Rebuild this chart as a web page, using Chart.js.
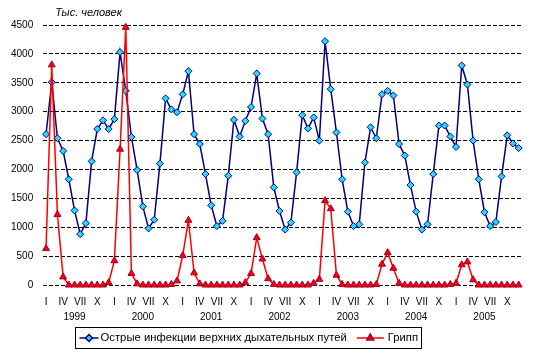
<!DOCTYPE html>
<html><head><meta charset="utf-8">
<script src="https://cdn.jsdelivr.net/npm/chart.js@4.4.1/dist/chart.umd.min.js"></script>
<style>html,body{margin:0;padding:0;background:#fff;}canvas{display:block;}</style>
</head><body>
<canvas id="c" width="536" height="356"></canvas>
<script>
const years = ['1999','2000','2001','2002','2003','2004','2005'];
const monthTicks = ['I','','','IV','','','VII','','','X','',''];
const seriesNames = ['Острые инфекции верхних дыхательных путей', 'Грипп'];
const unitLabel = 'Тыс. человек';
const yMax = 4500, yStep = 500;

const acuteRespiratory = [
  2610, 3510, 2540, 2320, 1830, 1290, 880, 1070, 2140, 2700, 2850, 2700,
  2870, 4030, 3360, 2560, 1990, 1360, 980, 1130, 2100, 3230, 3040, 2990,
  3300, 3700, 2610, 2440, 1920, 1380, 1020, 1110, 1890, 2860, 2570, 2840,
  3080, 3660, 2880, 2610, 1690, 1280, 960, 1080, 1950, 2940, 2710, 2900,
  2500, 4220, 3390, 2640, 1830, 1270, 1020, 1050, 2120, 2730, 2540, 3300,
  3360, 3280, 2440, 2240, 1730, 1270, 960, 1050, 1920, 2760, 2760, 2570,
  2390, 3800, 3470, 2500, 1830, 1260, 1020, 1090, 1880, 2590, 2450, 2370
];
const influenza = [
  630, 3810, 1220, 140, 0, 0, 0, 0, 0, 0, 0, 40,
  420, 2350, 4460, 200, 20, 0, 0, 0, 0, 0, 10, 70,
  510, 1120, 210, 20, 0, 0, 0, 0, 0, 0, 0, 40,
  200, 820, 450, 110, 10, 0, 0, 0, 0, 0, 0, 30,
  100, 1460, 1320, 170, 10, 0, 0, 0, 0, 0, 10, 360,
  560, 290, 30, 0, 0, 0, 0, 0, 0, 0, 0, 10,
  30, 350, 400, 90, 0, 0, 0, 0, 0, 0, 0, 0
];

const categories = [];
const tickLabels = [];
years.forEach(y => monthTicks.forEach((m, i) => {
  categories.push(y + '-' + (i + 1));
  tickLabels.push(i === 5 ? [m, y] : m);
}));

const FONT = "'Liberation Sans', Arial, sans-serif";
const BLUE_LINE = '#000080', CYAN = '#22DDFF', RED = '#FF0000', RED_EDGE = '#990033';
Chart.defaults.borderColor = '#000000';
Chart.defaults.color = '#000000';

const extras = {
  id: 'extras',
  afterDraw(chart) {
    const ctx = chart.ctx, a = chart.chartArea;
    ctx.save();
    ctx.fillStyle = '#000';
    ctx.textBaseline = 'middle';
    ctx.textAlign = 'left';
    ctx.font = 'italic 11px ' + FONT;
    ctx.fillText(unitLabel, a.left + 12, a.top - 12);

    // legend
    ctx.font = '11.3px ' + FONT;
    const top = 327.5, h = 21, cy = top + h / 2;
    const x0 = Math.round(a.left + 32) + 0.5;
    let x = x0 + 4;
    const items = [
      {name: seriesNames[0], line: BLUE_LINE, fill: CYAN, edge: BLUE_LINE, style: 'rectRot', r: 3.5, len: 19},
      {name: seriesNames[1], line: RED, fill: RED, edge: RED_EDGE, style: 'triangle', r: 4, len: 27}
    ];
    items.forEach((it, k) => {
      ctx.strokeStyle = it.line;
      ctx.lineWidth = 1.5;
      ctx.beginPath();
      ctx.moveTo(x, cy); ctx.lineTo(x + it.len, cy);
      ctx.stroke();
      ctx.fillStyle = it.fill;
      ctx.strokeStyle = it.edge;
      Chart.helpers.drawPoint(ctx, {pointStyle: it.style, radius: it.r, borderWidth: 1, rotation: 0}, x + it.len / 2, cy);
      ctx.fillStyle = '#000';
      const tx = x + it.len + (k === 0 ? 2 : 4);
      ctx.fillText(it.name, tx, cy);
      x = tx + ctx.measureText(it.name).width + 10;
    });
    const right = x - 10 + 3;
    ctx.strokeStyle = '#000';
    ctx.lineWidth = 1;
    ctx.strokeRect(x0, top, Math.round(right - x0), h);
    ctx.restore();
  }
};

new Chart(document.getElementById('c'), {
  type: 'line',
  data: {
    labels: categories,
    datasets: [
      {
        label: seriesNames[0], data: acuteRespiratory, order: 1,
        borderColor: BLUE_LINE, borderWidth: 1.5, tension: 0, clip: false,
        pointStyle: 'rectRot', pointRadius: 3.5, pointBackgroundColor: CYAN,
        pointBorderColor: BLUE_LINE, pointBorderWidth: 1
      },
      {
        label: seriesNames[1], data: influenza, order: 0,
        borderColor: RED, borderWidth: 1.5, tension: 0, clip: false,
        pointStyle: 'triangle', pointRadius: 4, pointBackgroundColor: RED,
        pointBorderColor: RED_EDGE, pointBorderWidth: 1
      }
    ]
  },
  options: {
    responsive: false,
    animation: false,
    events: [],
    layout: {padding: {left: 0, right: 14.5, top: 25, bottom: 0}},
    plugins: {legend: {display: false}, tooltip: {enabled: false}, title: {display: false}},
    scales: {
      x: {
        type: 'category', offset: true,
        grid: {display: false, drawTicks: false},
        border: {display: false},
        ticks: {
          autoSkip: false, maxRotation: 0, minRotation: 0, padding: 10,
          color: '#000', font: {family: FONT, size: 10, lineHeight: 1.5},
          callback: (v, i) => tickLabels[i]
        },
        afterFit: s => { s.height = 71; }
      },
      y: {
        min: 0, max: yMax,
        grid: {color: '#000000', lineWidth: 1, drawTicks: false},
        border: {display: false, dash: [4, 2]},
        ticks: {
          stepSize: yStep, padding: 10, color: '#000', font: {family: FONT, size: 10},
          callback: v => String(v)
        },
        afterFit: s => { s.width = 43.2; }
      }
    }
  },
  plugins: [extras]
});
</script>
</body></html>
